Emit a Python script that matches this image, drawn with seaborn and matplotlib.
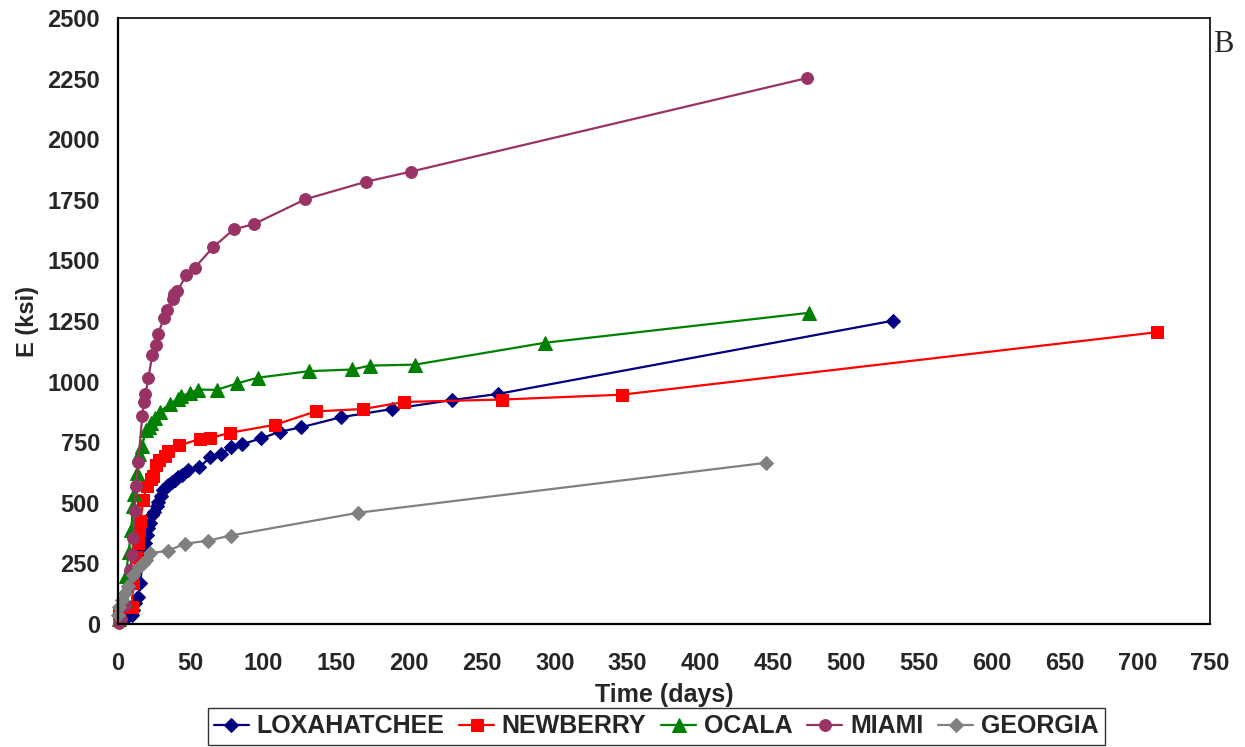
import matplotlib
matplotlib.use("Agg")
import matplotlib.pyplot as plt
import seaborn as sns
import pandas as pd

# Modulus (ksi) versus curing time (days) for five materials
lox_days = [1.4, 6, 9.4, 10.5, 11.7, 14, 15.1, 17, 17.4, 18.5, 19.7, 20.8, 22, 23.1, 24.7,
            26.6, 27.7, 29.3, 31.1, 32.7, 34.6, 36.9, 39.1, 41.4, 43.7, 48.3, 55.9, 63.2,
            70.5, 77.6, 85.4, 98.4, 111, 125.5, 153, 188.4, 229.6, 260.8, 532]
lox_e = [25, 30, 37, 58, 85, 113, 168, 251, 306, 333, 368, 395, 416, 448, 464,
         485, 505, 526, 551, 565, 574, 584, 595, 605, 614, 636, 647, 687,
         700, 731, 742, 766, 793, 811, 853, 887, 924, 949, 1251]

new_days = [0.5, 9.4, 10.5, 12.1, 13.5, 14.6, 15.3, 17.4, 19.7, 22.4, 23.8, 26.1, 28.4,
            32.3, 34.6, 42.1, 56.3, 63.2, 77, 108, 135.8, 168.5, 196.4, 264, 346, 713.8]
new_e = [40, 72, 168, 278, 333, 388, 423, 512, 568, 598, 609, 657, 677,
         694, 712, 737, 763, 767, 789, 822, 877, 887, 916, 926, 946, 1204]

oca_days = [1, 4.8, 5.5, 7.3, 9.2, 10.1, 11, 12.8, 14.6, 16.3, 19.5, 21.3, 22.4, 25.4,
            28.8, 35.7, 41.2, 43, 49.5, 55, 67.8, 82, 96, 131, 161, 173, 204, 293, 474.8]
oca_e = [20, 99, 198, 299, 388, 485, 537, 625, 700, 733, 799, 813, 829, 850,
         875, 909, 928, 939, 954, 967, 966, 993, 1016, 1043, 1050, 1066, 1070, 1160, 1284]

mia_days = [0.5, 2, 5, 7, 8.2, 9.8, 10.5, 11.4, 12.4, 13.9, 16.7, 17.6, 18.8, 20.8, 23.6,
            25.9, 27.5, 31.6, 33.9, 37.5, 38.5, 40.7, 46.7, 52.7, 65.5, 79.4, 93.4,
            128.6, 170, 201, 473]
mia_e = [5, 20, 80, 150, 223, 286, 354, 466, 570, 667, 860, 915, 948, 1014, 1110,
         1152, 1197, 1262, 1296, 1339, 1360, 1372, 1438, 1470, 1555, 1628, 1650,
         1752, 1824, 1866, 2252]

geo_days = [0.2, 0.9, 2.5, 4.8, 7.1, 10.5, 14.6, 19.2, 22, 34.1, 46, 62, 77.4, 165, 445]
geo_e = [37, 72, 99, 127, 157, 202, 237, 262, 292, 302, 331, 344, 365, 459, 665]

names = ["LOXAHATCHEE", "NEWBERRY", "OCALA", "MIAMI", "GEORGIA"]
colors = ["#000080", "#FF0000", "#008000", "#993366", "#808080"]
markers = ["D", "s", "^", "o", "D"]
msizes = [7.5, 8.5, 10, 8.5, 7.5]
x_ticks = list(range(0, 751, 50))
y_ticks = list(range(0, 2501, 250))

series = [(lox_days, lox_e), (new_days, new_e), (oca_days, oca_e),
          (mia_days, mia_e), (geo_days, geo_e)]

sns.set_style("white")
plt.rcParams["font.family"] = ["Liberation Sans", "DejaVu Sans"]
plt.rcParams["font.weight"] = "bold"

fig = plt.figure(figsize=(12.45, 7.47), dpi=100)
ax = fig.add_axes([118 / 1245, 123 / 747, 1092 / 1245, 606 / 747])

for name, (d, e), c, m, ms in zip(names, series, colors, markers, msizes):
    df = pd.DataFrame({"Time (days)": d, "E (ksi)": e})
    sns.lineplot(data=df, x="Time (days)", y="E (ksi)", ax=ax, sort=False,
                 estimator=None, color=c, marker=m, markersize=ms,
                 markeredgecolor=c, markerfacecolor=c, linewidth=1.6,
                 label=name, clip_on=False)

ax.set_xlim(0, 750)
ax.set_ylim(0, 2500)
ax.set_xticks(x_ticks)
ax.set_yticks(y_ticks)
ax.tick_params(axis="both", which="major", labelsize=17, direction="out",
               length=5, width=1.2, color="#444444", pad=8)
ax.tick_params(axis="x", pad=15)
for lbl in ax.get_xticklabels() + ax.get_yticklabels():
    lbl.set_fontweight("bold")

for side in ["left", "bottom"]:
    ax.spines[side].set_linewidth(1.6)
    ax.spines[side].set_color("black")
for side in ["top", "right"]:
    ax.spines[side].set_linewidth(1.2)
    ax.spines[side].set_color("black")
ax.spines["top"].set_visible(True)
ax.spines["right"].set_visible(True)

ax.set_xlabel("Time (days)", fontsize=18, fontweight="bold", labelpad=6)
ax.set_ylabel("E (ksi)", fontsize=17, fontweight="bold", labelpad=6)

ax.get_legend().remove()
handles, labels = ax.get_legend_handles_labels()
leg = fig.legend(handles, labels, loc="lower center", ncol=5,
                 bbox_to_anchor=(656 / 1245, 0.0), frameon=True, fancybox=False,
                 edgecolor="black", prop={"size": 18, "weight": "bold"},
                 handlelength=1.4, handletextpad=0.3, columnspacing=0.6,
                 borderpad=0.25, borderaxespad=0.1)
leg.get_frame().set_linewidth(1.0)

fig.text(1213 / 1245, 1 - 30 / 747, "B", fontsize=22, va="top", ha="left",
         family=["Liberation Serif", "DejaVu Serif"], fontweight="normal")

fig.savefig("out.png", dpi=100, facecolor="white")
